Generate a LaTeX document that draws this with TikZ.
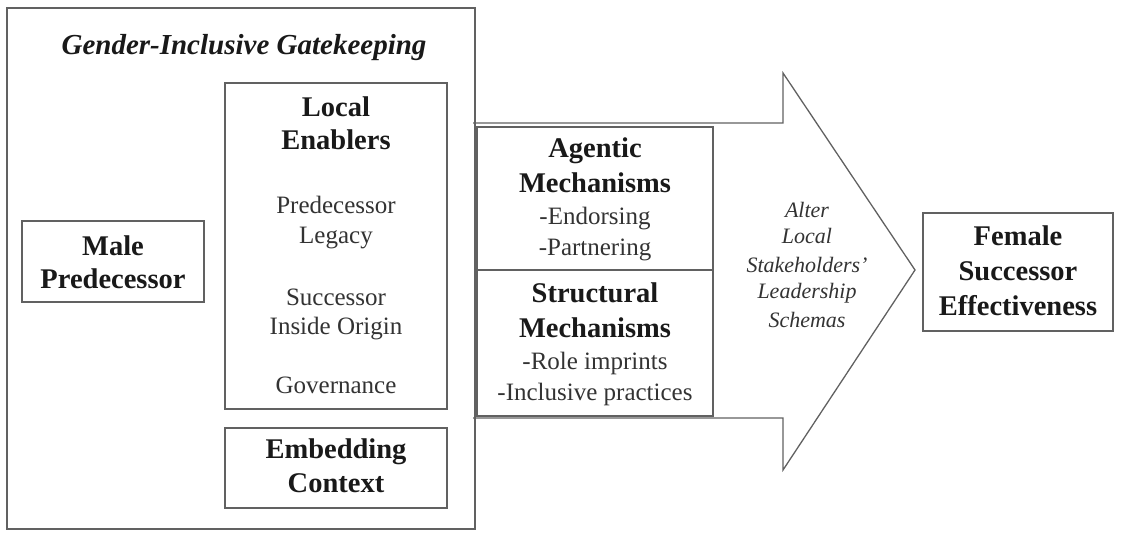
\documentclass[tikz,border=0pt]{standalone}
\usepackage{fontspec}
\setmainfont{Liberation Serif}
\begin{document}
\begin{tikzpicture}[x=1pt,y=-1pt,
  frame/.style={draw=black!62, line width=1.6pt, fill=white, inner sep=0pt},
  openframe/.style={draw=black!62, line width=1.6pt, inner sep=0pt},
  arrowshape/.style={draw=black!62, line width=1.3pt, fill=white},
  bt/.style={font=\fontsize{28.5}{30}\selectfont\bfseries, text=black!90, anchor=base, inner sep=0pt},
  rt/.style={font=\fontsize{25}{27}\selectfont, text=black!80, anchor=base, inner sep=0pt},
  it/.style={font=\fontsize{22}{24}\selectfont\itshape, text=black!80, anchor=base, inner sep=0pt},
  tt/.style={font=\fontsize{29}{31}\selectfont\bfseries\itshape, text=black!90, anchor=base, inner sep=0pt}]
\useasboundingbox (0,0) rectangle (1121,540);
% big arrow
\coordinate (a1) at (473,123);
\coordinate (a2) at (783,123);
\coordinate (a3) at (783,73);
\coordinate (tip) at (915,270);
\coordinate (a5) at (783,470);
\coordinate (a6) at (783,418);
\coordinate (a7) at (473,418);
\draw[arrowshape] (a1) -- (a2) -- (a3) -- (tip) -- (a5) -- (a6) -- (a7);
% outer gatekeeping frame
\node[openframe, minimum width=468pt, minimum height=521pt] (outer) at (241,268.5) {};
% boxes
\node[frame, minimum width=222pt, minimum height=326pt] (enab) at (336,246) {};
\node[frame, minimum width=222pt, minimum height=80pt] (embed) at (336,468) {};
\node[frame, minimum width=182pt, minimum height=81pt] (male) at (113,261.5) {};
\node[frame, minimum width=236pt, minimum height=143pt] (agen) at (595,198.5) {};
\node[frame, minimum width=236pt, minimum height=146pt] (struc) at (595,343) {};
\node[frame, minimum width=190pt, minimum height=118pt] (fem) at (1018,272) {};
% title
\node[tt] (title) at (244,55) {Gender-Inclusive Gatekeeping};
% male predecessor
\node[bt] (m1) at (113,255) {Male};
\node[bt] (m2) at (113,288) {Predecessor};
% local enablers
\node[bt] (e1) at (336,117) {Local};
\node[bt] (e2) at (336,150) {Enablers};
\node[rt] (e3) at (336,213) {Predecessor};
\node[rt] (e4) at (336,243) {Legacy};
\node[rt] (e5) at (336,305) {Successor};
\node[rt] (e6) at (336,334) {Inside Origin};
\node[rt] (e7) at (336,393) {Governance};
% embedding context
\node[bt] (c1) at (336,458) {Embedding};
\node[bt] (c2) at (336,492) {Context};
% agentic
\node[bt] (g1) at (595,158) {Agentic};
\node[bt] (g2) at (595,193) {Mechanisms};
\node[rt] (g3) at (595,225) {-Endorsing};
\node[rt] (g4) at (595,255) {-Partnering};
% structural
\node[bt] (s1) at (595,302) {Structural};
\node[bt] (s2) at (595,337) {Mechanisms};
\node[rt] (s3) at (595,369) {-Role imprints};
\node[rt] (s4) at (595,400) {-Inclusive practices};
% arrow text
\node[it] (l1) at (807,217) {Alter};
\node[it] (l2) at (807,243) {Local};
\node[it] (l3) at (807,272) {Stakeholders'};
\node[it] (l4) at (807,298) {Leadership};
\node[it] (l5) at (807,327) {Schemas};
% female successor
\node[bt] (f1) at (1018,245) {Female};
\node[bt] (f2) at (1018,280) {Successor};
\node[bt] (f3) at (1018,315) {Effectiveness};
\end{tikzpicture}
\end{document}
